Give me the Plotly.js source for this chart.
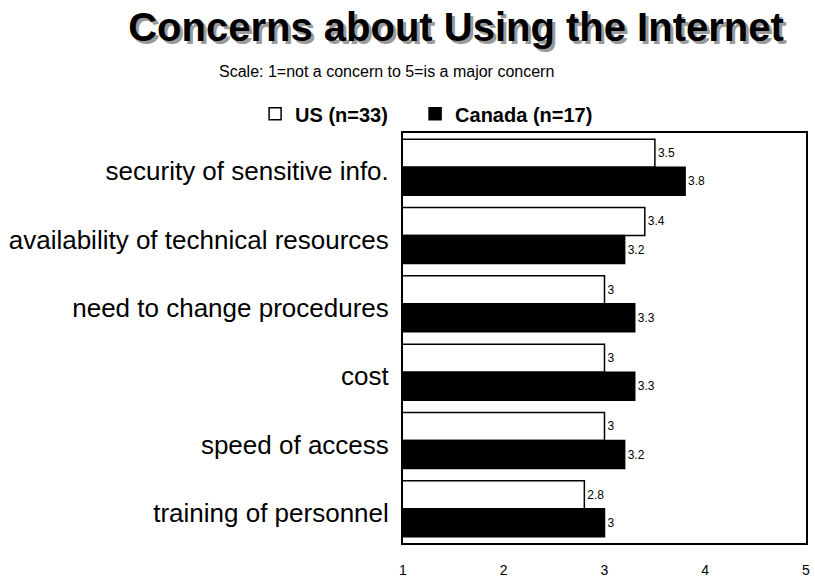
<!DOCTYPE html>
<html>
<head>
<meta charset="utf-8">
<script src="https://cdn.plot.ly/plotly-3.0.1.min.js"></script>
<style>html,body{margin:0;padding:0;background:#fff;}</style>
</head>
<body>
<div id="chart" style="width:815px;height:578px;"></div>
<script>
const categories = [
  "security of sensitive info.",
  "availability of technical resources",
  "need to change procedures",
  "cost",
  "speed of access",
  "training of personnel"
];
const usValues = [3.5, 3.4, 3, 3, 3, 2.8];
const canadaValues = [3.8, 3.2, 3.3, 3.3, 3.2, 3];
const seriesNames = ["US (n=33)", "Canada (n=17)"];
const xTicks = [1, 2, 3, 4, 5];
const titleText = "Concerns about Using the Internet";
const subtitleText = "Scale: 1=not a concern to 5=is a major concern";

const font = "Arial, 'Liberation Sans', sans-serif";

const traces = [
  {
    type: "bar", orientation: "h", name: seriesNames[0], legend: "legend",
    y: categories, x: usValues,
    text: usValues.map(String), textposition: "outside",
    textfont: {family: font, size: 12, color: "#000"},
    constraintext: "none", cliponaxis: false,
    marker: {color: "#ffffff", line: {color: "#000", width: 1.5}},
    hoverinfo: "x+y"
  },
  {
    type: "bar", orientation: "h", name: seriesNames[1], legend: "legend2",
    y: categories, x: canadaValues,
    text: canadaValues.map(String), textposition: "outside",
    textfont: {family: font, size: 12, color: "#000"},
    constraintext: "none", cliponaxis: false,
    marker: {color: "#000000", line: {color: "#000", width: 1.5}},
    hoverinfo: "x+y"
  }
];

const legendFont = {family: font, size: 20, color: "#000", weight: "bold"};

const layout = {
  width: 815, height: 578,
  margin: {l: 403, r: 9, t: 133, b: 35, pad: 0},
  paper_bgcolor: "#fff", plot_bgcolor: "#fff",
  font: {family: font, color: "#000"},
  barmode: "group", bargap: 0.18, bargroupgap: 0,
  showlegend: true,
  legend: {
    orientation: "h", x: -0.367, xanchor: "left", y: 1.047, yanchor: "middle",
    font: legendFont, bgcolor: "rgba(0,0,0,0)"
  },
  legend2: {
    orientation: "h", x: 0.03, xanchor: "left", y: 1.047, yanchor: "middle",
    font: legendFont, bgcolor: "rgba(0,0,0,0)"
  },
  title: {
    text: "<b>" + titleText + "</b>",
    font: {family: font, size: 40, color: "#000", shadow: "3px 3px 0px #9a9a9a"},
    x: 0.5595, xanchor: "center", xref: "container",
    y: 0.953, yanchor: "middle", yref: "container"
  },
  annotations: [
    {
      text: subtitleText, showarrow: false,
      xref: "paper", yref: "paper",
      x: -0.042, y: 1.151, xanchor: "center", yanchor: "middle",
      font: {family: font, size: 16, color: "#000"}
    }
  ],
  xaxis: {
    range: [1, 5], tickvals: xTicks, ticktext: xTicks.map(String),
    showgrid: false, zeroline: false,
    showline: true, linecolor: "#000", linewidth: 2, mirror: true,
    ticks: "", ticklabelstandoff: 13,
    tickfont: {family: font, size: 14, color: "#000"},
    fixedrange: true
  },
  yaxis: {
    type: "category", autorange: "reversed",
    showgrid: false, zeroline: false,
    showline: true, linecolor: "#000", linewidth: 2, mirror: true,
    ticks: "", ticklabelstandoff: 7, ticklabelshift: -4,
    tickfont: {family: font, size: 26, color: "#000"},
    fixedrange: true
  }
};

Plotly.newPlot("chart", traces, layout, {displayModeBar: false, staticPlot: true});
</script>
</body>
</html>
